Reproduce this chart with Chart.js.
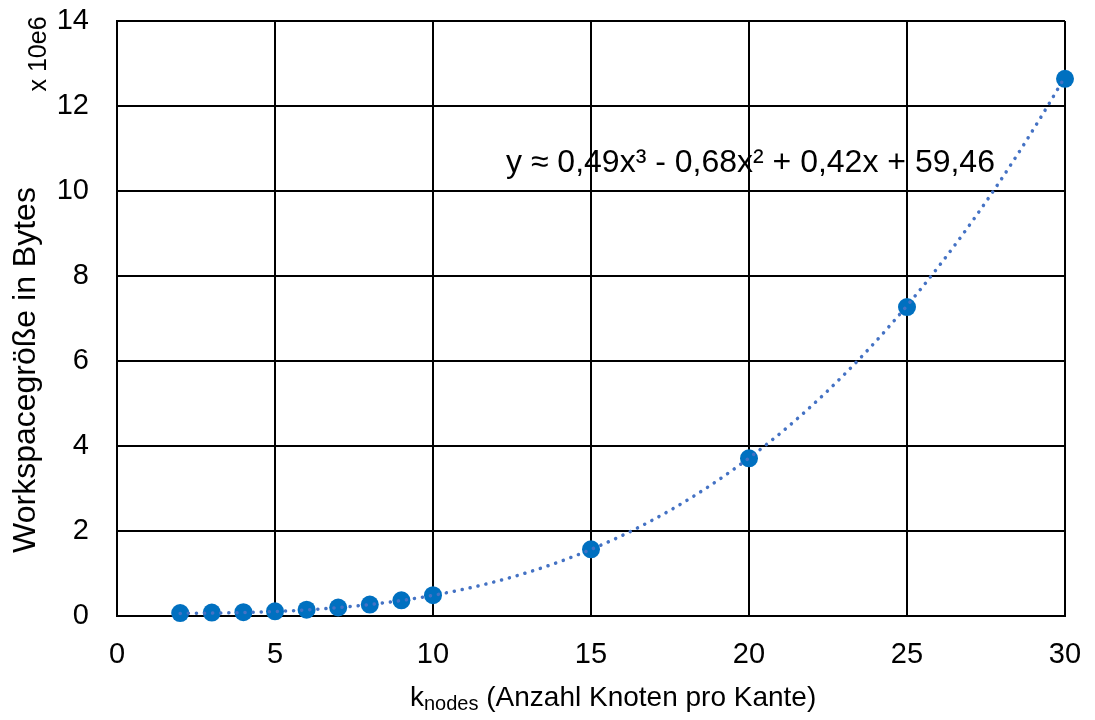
<!DOCTYPE html>
<html>
<head>
<meta charset="utf-8">
<script src="https://cdn.jsdelivr.net/npm/chart.js@4"></script>
<style>
  html, body { margin: 0; padding: 0; background: #fff; }
  #wrap { width: 1095px; height: 720px; }
</style>
</head>
<body>
<div id="wrap"><canvas id="workspaceChart"></canvas></div>
<script>
/******* Measured workspace size (x 10e6 Bytes) per k_nodes *******/
var kNodes = [2, 3, 4, 5, 6, 7, 8, 9, 10, 15, 20, 25, 30];
var workspace = [0.07, 0.08, 0.09, 0.11, 0.15, 0.20, 0.27, 0.37, 0.49, 1.57, 3.71, 7.27, 12.64];
var xTicks = [0, 5, 10, 15, 20, 25, 30];
var yTicks = [0, 2, 4, 6, 8, 10, 12, 14];

// cubic fit, coefficients as printed in the label (result in 1000 Bytes)
var fitCoeffs = [0.49, -0.68, 0.42, 59.46];
var fitLabel = 'y \u2248 0,49x\u00B3 - 0,68x\u00B2 + 0,42x + 59,46';

var fitCurve = [];
for (var k = kNodes[0]; k <= kNodes[kNodes.length - 1] + 0.001; k += 0.25) {
  var v = fitCoeffs[0] * k * k * k + fitCoeffs[1] * k * k + fitCoeffs[2] * k + fitCoeffs[3];
  fitCurve.push({ x: k, y: v / 1000 });
}

var FONT = '"Liberation Sans", Arial, sans-serif';

// titles, unit note and fit equation
var textPlugin = {
  id: 'texts',
  afterDraw: function (chart) {
    var c = chart.ctx;
    c.save();
    c.fillStyle = '#000';
    c.textBaseline = 'alphabetic';

    // y axis title
    c.save();
    c.translate(35, 370);
    c.rotate(-Math.PI / 2);
    c.textAlign = 'center';
    c.font = '32px ' + FONT;
    c.fillText('Workspacegröße in Bytes', 0, 0);
    c.restore();

    // unit note
    c.save();
    c.translate(46, 54);
    c.rotate(-Math.PI / 2);
    c.textAlign = 'center';
    c.font = '25px ' + FONT;
    c.fillText('x 10e6', 0, 0);
    c.restore();

    // x axis title with subscript
    var main = ' (Anzahl Knoten pro Kante)';
    var x0 = 410, yT = 706;
    c.textAlign = 'left';
    c.font = '28px ' + FONT;
    var wK = c.measureText('k').width;
    c.fillText('k', x0, yT);
    c.font = '20px ' + FONT;
    var wSub = c.measureText('nodes').width;
    c.fillText('nodes', x0 + wK, yT + 4);
    c.font = '28px ' + FONT;
    c.fillText(main, x0 + wK + wSub, yT);

    // fit equation
    c.font = '32px ' + FONT;
    c.fillText(fitLabel, 506, 172);
    c.restore();
  }
};

var ctx = document.getElementById('workspaceChart');
var workspaceChart = new Chart(ctx, {
  type: 'scatter',
  data: {
    datasets: [
      {
        label: 'Fit',
        data: fitCurve,
        showLine: true,
        pointRadius: 0,
        borderColor: '#4472C4',
        borderWidth: 3.5,
        borderDash: [0.1, 8],
        borderCapStyle: 'round',
        tension: 0,
        clip: false
      },
      {
        label: 'Workspace',
        data: kNodes.map(function (k, i) { return { x: k, y: workspace[i] }; }),
        pointRadius: 9,
        pointBackgroundColor: '#0070C0',
        pointBorderColor: '#0070C0',
        pointBorderWidth: 0,
        showLine: false,
        clip: false
      }
    ]
  },
  options: {
    responsive: true,
    maintainAspectRatio: false,
    animation: false,
    devicePixelRatio: 1,
    layout: { padding: 0 },
    plugins: {
      legend: { display: false },
      tooltip: { enabled: false }
    },
    scales: {
      x: {
        type: 'linear',
        min: 0,
        max: 30,
        afterBuildTicks: function (axis) {
          axis.ticks = xTicks.map(function (v) { return { value: v }; });
        },
        afterFit: function (axis) {
          axis.height = 104;
          axis.paddingLeft = 0;
          axis.paddingRight = 30;
        },
        grid: { color: '#000', lineWidth: 2, drawTicks: false },
        border: { color: '#000', width: 2 },
        ticks: {
          color: '#000',
          padding: 22,
          font: { family: FONT, size: 29 },
          maxRotation: 0
        }
      },
      y: {
        min: 0,
        max: 14,
        afterBuildTicks: function (axis) {
          axis.ticks = yTicks.map(function (v) { return { value: v }; });
        },
        afterFit: function (axis) {
          axis.width = 117;
          axis.paddingTop = 21;
          axis.paddingBottom = 0;
        },
        grid: { color: '#000', lineWidth: 2, drawTicks: false },
        border: { color: '#000', width: 2 },
        ticks: {
          color: '#000',
          padding: 28,
          font: { family: FONT, size: 29 }
        }
      }
    }
  },
  plugins: [textPlugin]
});
</script>
</body>
</html>
